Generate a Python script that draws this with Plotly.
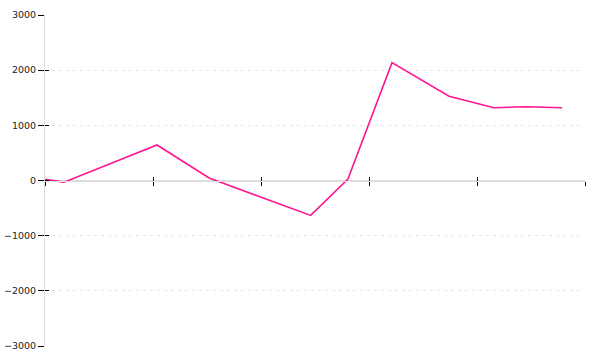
import plotly.graph_objects as go

# x positions expressed in tick units (ticks at 0..5, no labels shown)
x_vals = [0, 0.176, 1.037, 1.52, 2.46, 2.805, 3.213, 3.741, 4.157, 4.45, 4.787]
y_vals = [20, -30, 644, 45, -633, 25, 2137, 1529, 1318, 1338, 1318]

y_ticks = [-3000, -2000, -1000, 0, 1000, 2000, 3000]
x_ticks = [0, 1, 2, 3, 4, 5]

fig = go.Figure()
fig.add_trace(go.Scatter(x=x_vals, y=y_vals, mode="lines",
                         line=dict(color="#ff1493", width=1.6),
                         hoverinfo="skip", showlegend=False))
# invisible traces to activate overlay axes for inside ticks
fig.add_trace(go.Scatter(x=[x_ticks[0]], y=[0], xaxis="x2", yaxis="y",
                         mode="markers", marker=dict(opacity=0), showlegend=False, hoverinfo="skip"))
fig.add_trace(go.Scatter(x=[x_ticks[0]], y=[0], xaxis="x", yaxis="y2",
                         mode="markers", marker=dict(opacity=0), showlegend=False, hoverinfo="skip"))

font = dict(family="DejaVu Sans", size=9.5, color="#222")

fig.update_layout(
    width=600, height=360,
    margin=dict(l=45, r=15, t=15, b=14, autoexpand=False),
    paper_bgcolor="white", plot_bgcolor="white",
    font=font,
    xaxis=dict(range=[0, 5], tickvals=x_ticks, showticklabels=False,
               ticks="outside", ticklen=4, tickcolor="#000", tickwidth=1,
               showgrid=False, zeroline=False, showline=True, linecolor="#ddd",
               anchor="free", position=0.5, automargin=False),
    xaxis2=dict(range=[0, 5], tickvals=x_ticks, showticklabels=False, overlaying="x",
                ticks="inside", ticklen=4, tickcolor="#000", tickwidth=1,
                showgrid=False, zeroline=False, showline=False,
                anchor="free", position=0.5, side="bottom", automargin=False),
    yaxis=dict(range=[-3000, 3000], tickvals=y_ticks, ticks="outside", ticklen=6,
               tickcolor="#000", tickwidth=1, showline=True, linecolor="#ddd",
               showgrid=True, gridcolor="#e6e6e6", griddash="3px,4px", gridwidth=1,
               zeroline=True, zerolinecolor="#ddd", zerolinewidth=1,
               tickfont=font, ticklabelstandoff=0, automargin=False),
    yaxis2=dict(range=[-3000, 3000], tickvals=y_ticks, overlaying="y", side="left",
                ticks="inside", ticklen=4, tickcolor="#000", tickwidth=1,
                showticklabels=False, showgrid=False, zeroline=False, showline=False,
                automargin=False),
)

fig.write_html("out.html")
